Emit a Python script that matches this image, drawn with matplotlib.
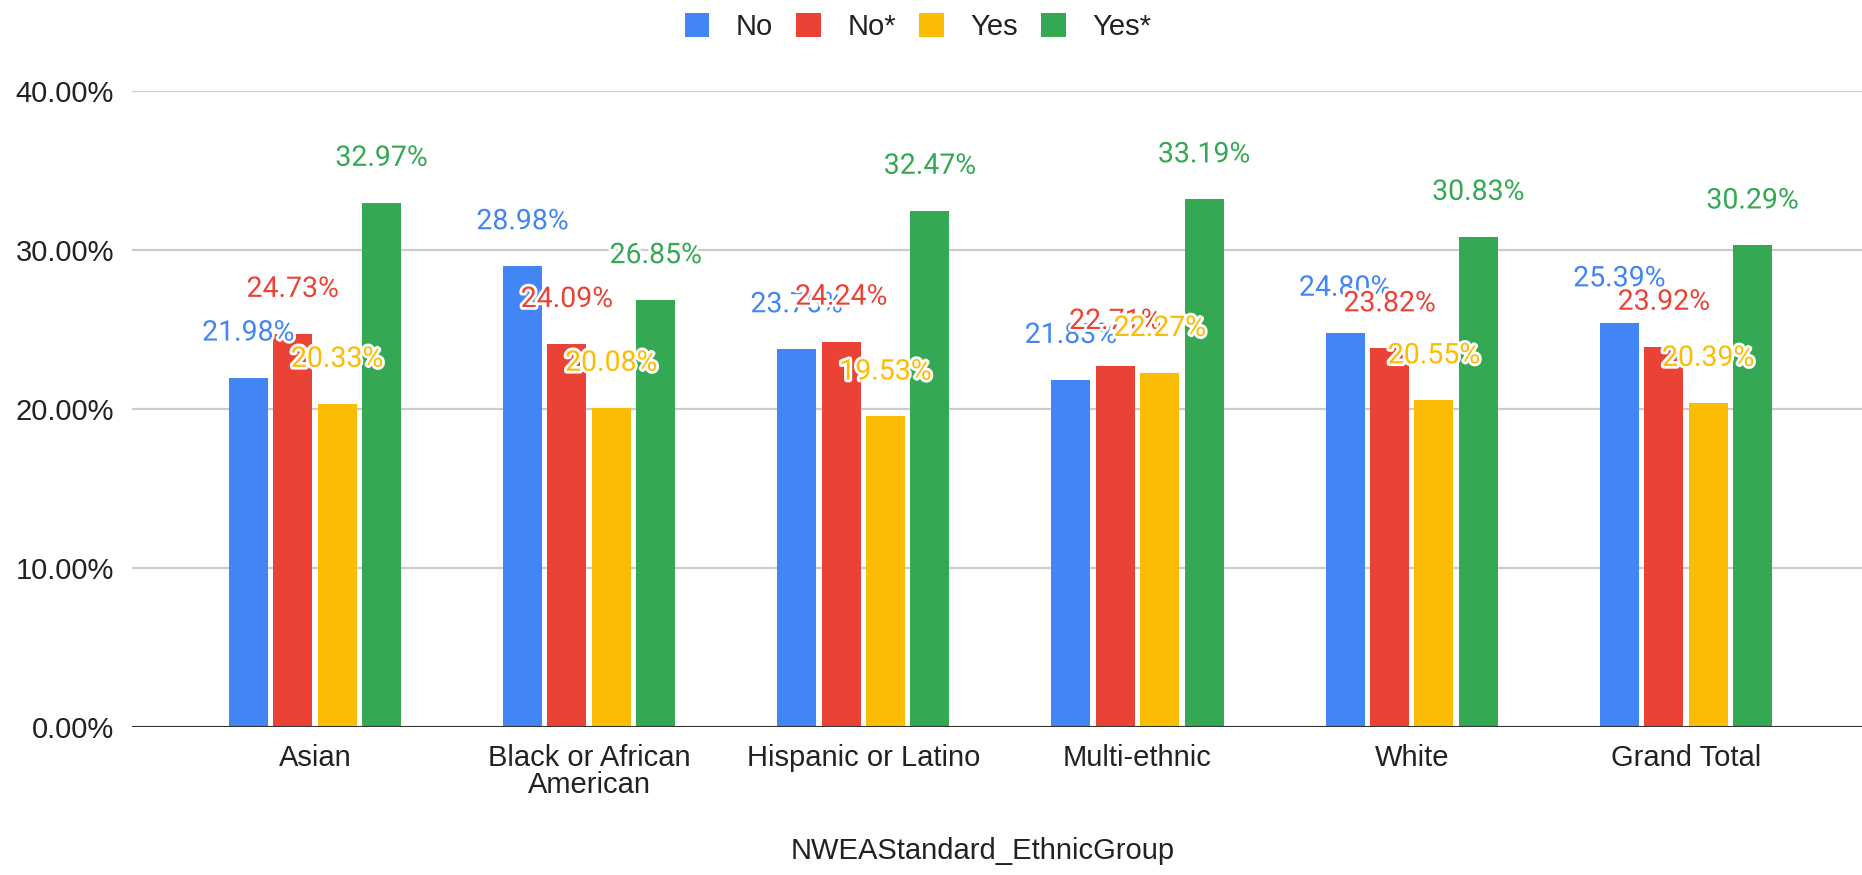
import matplotlib
matplotlib.use("Agg")
import matplotlib.pyplot as plt
import matplotlib.patheffects as pe
from matplotlib.patches import Patch
import numpy as np

categories = ["Asian", "Black or African\nAmerican", "Hispanic or Latino",
              "Multi-ethnic", "White", "Grand Total"]
series_names = ["No", "No*", "Yes", "Yes*"]
no_vals = [21.98, 28.98, 23.76, 21.83, 24.80, 25.39]
no_star_vals = [24.73, 24.09, 24.24, 22.71, 23.82, 23.92]
yes_vals = [20.33, 20.08, 19.53, 22.27, 20.55, 20.39]
yes_star_vals = [32.97, 26.85, 32.47, 33.19, 30.83, 30.29]
y_ticks = [0, 10, 20, 30, 40]
x_title = "NWEAStandard_EthnicGroup"

colors = ["#4285F4", "#EA4335", "#FBBC04", "#34A853"]
all_series = [no_vals, no_star_vals, yes_vals, yes_star_vals]

AX_FONT = ["Liberation Sans", "DejaVu Sans"]
LBL_FONT = ["Roboto", "DejaVu Sans"]

fig = plt.figure(figsize=(18.62, 8.75), dpi=100)
ax = fig.add_axes([0.0709, 0.1691, 0.9291, 0.7269])

x = np.arange(len(categories))
step = 0.162
width = 0.142

for i, (vals, col) in enumerate(zip(all_series, colors)):
    ax.bar(x + (i - 1.5) * step, vals, width=width, color=col, zorder=3)

for i, (vals, col) in enumerate(zip(all_series, colors)):
    for xi, v in zip(x, vals):
        ax.annotate(f"{v:.2f}%", xy=(xi + (i - 1.5) * step, v),
                    xytext=(0, 32), textcoords="offset points",
                    ha="center", va="center", fontsize=20.5, color=col,
                    family=LBL_FONT, zorder=5,
                    path_effects=[pe.withStroke(linewidth=4, foreground="white")])

ax.set_xlim(-0.667, 5.642)
ax.set_ylim(0, 40)
ax.set_yticks(y_ticks)
ax.set_yticklabels([f"{v:.2f}%" for v in y_ticks], family=AX_FONT, fontsize=21, color="#222222")
ax.set_xticks(x)
ax.set_xticklabels(categories, family=AX_FONT, fontsize=21, color="#222222", linespacing=0.95)
ax.tick_params(axis="both", length=0)
ax.tick_params(axis="y", pad=13)
ax.tick_params(axis="x", pad=12)
for s in ax.spines.values():
    s.set_visible(False)
ax.grid(axis="y", color="#cccccc", linewidth=1.6, zorder=0)
ax.axhline(0, color="#333333", linewidth=2.2, zorder=4)

fig.text(0.528, 0.027, x_title, ha="center", va="center", family=AX_FONT,
         fontsize=21, color="#222222")

handles = [Patch(facecolor=c, edgecolor="none", label=n) for c, n in zip(colors, series_names)]
leg = fig.legend(handles=handles, loc="center", bbox_to_anchor=(0.493, 0.969), ncol=4,
                 frameon=False, handlelength=0.85, handleheight=0.85,
                 handletextpad=0.9, columnspacing=0.8,
                 prop={"family": AX_FONT, "size": 21})
for t in leg.get_texts():
    t.set_color("#222222")

fig.savefig("out.png", dpi=100, facecolor="white")
